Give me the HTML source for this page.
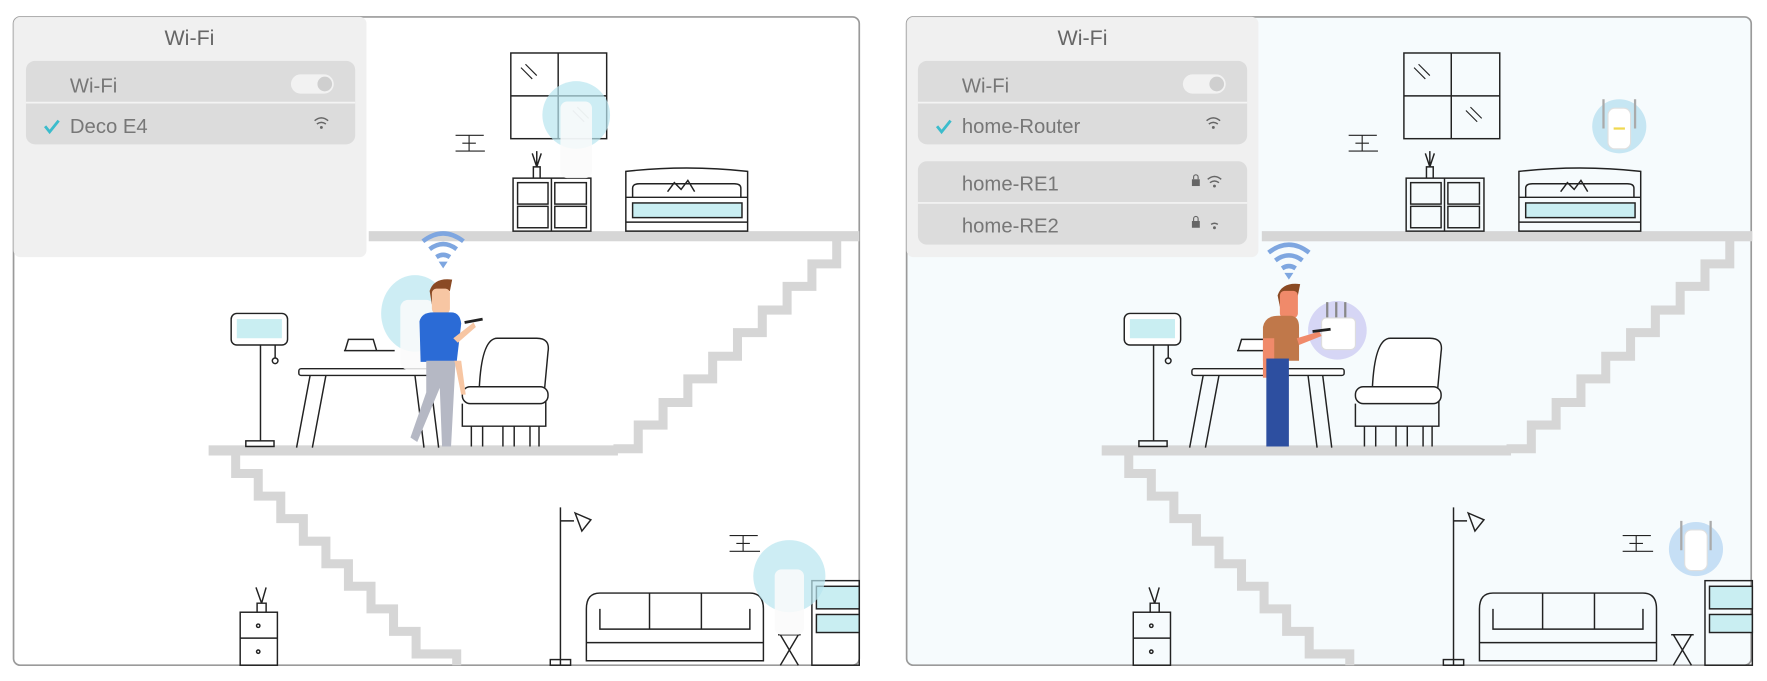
<!DOCTYPE html>
<html><head><meta charset="utf-8"><style>
html,body{margin:0;padding:0;background:#fff;width:1767px;height:681px;overflow:hidden}
svg{display:block}
text{font-family:"Liberation Sans",sans-serif}
</style></head><body>
<svg width="1767" height="681" viewBox="0 0 1567 604" preserveAspectRatio="none" xmlns="http://www.w3.org/2000/svg">
<defs>
<g id="scene" fill="none" stroke="#222" stroke-width="1.3">
  <rect x="327" y="205" width="435" height="9" fill="#d6d6d6" stroke="none"/>
  <rect x="185" y="395" width="363" height="9" fill="#d6d6d6" stroke="none"/>
  <polyline points="742,213 742,234 720,234 720,254 698,254 698,275 676,275 676,295 654,295 654,316 632,316 632,336 610,336 610,357 588,357 588,377 566,377 566,398 544,398" stroke="#d6d6d6" stroke-width="8"/>
  <polyline points="209,403 209,420 229,420 229,440 249,440 249,460 269,460 269,480 289,480 289,500 309,500 309,520 329,520 329,540 349,540 349,560 369,560 369,580 405,580 405,590" stroke="#d6d6d6" stroke-width="8"/>
  <rect x="453" y="47" width="85" height="76"/>
  <line x1="495" y1="47" x2="495" y2="123"/><line x1="453" y1="85" x2="538" y2="85"/>
  <path d="M462 60l10 10M466 57l10 10M508 98l10 10M512 95l10 10" stroke-width="1"/>
  <path d="M404 120h25M416 120v14M404 134h26M410 127h12" stroke-width="1"/>
  <rect x="455" y="158" width="69" height="47"/>
  <line x1="489" y1="158" x2="489" y2="205"/>
  <rect x="459" y="162" width="27" height="19"/><rect x="459" y="183" width="27" height="19"/>
  <rect x="492" y="162" width="28" height="19"/><rect x="492" y="183" width="28" height="19"/>
  <path d="M473 158v-10h6v10M476 148l-4-12M476 148l4-12M476 148v-14"/>
  <path d="M555 152q54-6 108 0v53h-108z"/>
  <rect x="561" y="180" width="97" height="13" fill="#c9eef2" stroke="#222"/>
  <path d="M561 175v-8q0-4 6-4h84q6 0 6 4v8M555 175h108M555 197h108"/>
  <path d="M592 170l6-8 6 6 6-8 6 10"/>
  <rect x="205" y="278" width="50" height="28" rx="5" fill="#fff"/>
  <rect x="210" y="283" width="40" height="17" fill="#c9eef2" stroke="none"/>
  <line x1="231" y1="306" x2="231" y2="391"/><rect x="218" y="391" width="25" height="5"/>
  <path d="M244 306v12"/><circle cx="244" cy="320" r="2.5"/>
  <rect x="265" y="327" width="135" height="6" rx="2" fill="#fff"/>
  <path d="M275 333l-12 64M289 333l-12 64M368 333l8 64M381 333l8 64"/>
  <path d="M306 311l3-10h22l3 10zM305 311h45" fill="#fff"/>
  <path d="M425 345q2-45 16-45h35q12 0 10 12l-4 43" fill="#fff"/>
  <rect x="410" y="343" width="76" height="15" rx="7" fill="#fff"/>
  <path d="M410 358v20h74v-22"/>
  <path d="M418 378v18M428 378v18M446 378v18M456 378v18M470 378v18M478 378v18"/>
  <rect x="213" y="543" width="33" height="47"/>
  <line x1="213" y1="566" x2="246" y2="566"/>
  <circle cx="229" cy="555" r="1.5"/><circle cx="229" cy="578" r="1.5"/>
  <path d="M228 543v-8h8v8M232 535l-5-14M232 535l4-14"/>
  <line x1="497" y1="450" x2="497" y2="590"/>
  <path d="M497 462h12M510 455l14 6-8 10z"/>
  <rect x="488" y="585" width="18" height="5"/>
  <path d="M520 540q0-14 12-14h133q12 0 12 14v46h-157z"/>
  <path d="M532 540v18h133v-18M576 526v32M622 526v32M520 570h157"/>
  <path d="M647 475h25M659 475v14M647 489h27M653 482h12" stroke-width="1"/>
  <rect x="720" y="515" width="42" height="75"/>
  <rect x="724" y="520" width="38" height="20" fill="#c9eef2"/>
  <rect x="724" y="545" width="38" height="16" fill="#c9eef2"/>
  <path d="M690 563h20M692 563l16 27M708 563l-16 27"/>
</g>
</defs>

<rect x="12" y="15" width="750" height="575" rx="6" fill="#fff" stroke="#9a9a9a" stroke-width="1.5"/>
<use href="#scene"/>
<circle cx="511" cy="102" r="30" fill="#b8e6ef" opacity="0.7"/>
<rect x="497" y="90" width="28" height="68" rx="6" fill="#fafafa" opacity="0.85"/>
<ellipse cx="368" cy="278" rx="30" ry="34" fill="#b8e6ef" opacity="0.7"/>
<rect x="355" y="266" width="30" height="62" rx="7" fill="#fafafa" opacity="0.85"/>
<circle cx="700" cy="511" r="32" fill="#b8e6ef" opacity="0.7"/>
<rect x="687" y="505" width="26" height="58" rx="6" fill="#fafafa" opacity="0.85"/>
<g fill="none" stroke="#7ea6e0" stroke-width="4">
<path d="M375 214q18-14 36 0"/><path d="M381 221q12-9 24 0"/><path d="M387 228q6-4 12 0"/>
</g><path d="M389 232l4 6 4-6z" fill="#7ea6e0"/>
<path d="M381 258q4-12 20-10l-2 10-16 12z" fill="#8a4a24"/>
<rect x="383" y="256" width="16" height="22" rx="4" fill="#f7c6a3"/>
<path d="M372 285q2-8 12-8h16q8 0 9 10l-4 34h-32z" fill="#2b6bd6"/>
<path d="M378 320h26l-4 76h-8l-2-52-20 48-6-4 14-40z" fill="#b5b8c4"/>
<path d="M402 300l18-14 2 4-16 14zM403 320l6 30 4 0-4-30z" fill="#f7c6a3"/>
<line x1="412" y1="286" x2="428" y2="283" stroke="#222" stroke-width="2.5"/>
<rect x="12" y="15" width="313" height="213" rx="6" fill="#efefef" opacity="0.96"/>
<text x="168" y="40" font-size="19" fill="#666" text-anchor="middle">Wi-Fi</text>
<rect x="23" y="54" width="292" height="74" rx="8" fill="#dcdcdc"/>
<line x1="23" y1="91" x2="315" y2="91" stroke="#f4f4f4" stroke-width="1.5"/>
<text x="62" y="82" font-size="18" fill="#777">Wi-Fi</text>
<rect x="258" y="66" width="38" height="17" rx="8.5" fill="#f2f2f2"/><circle cx="288" cy="74.5" r="6.5" fill="#cfcfcf"/>
<path d="M40 112l4 5 8-10" fill="none" stroke="#3bbccc" stroke-width="2.5"/>
<text x="62" y="118" font-size="18" fill="#777">Deco E4</text>
<g fill="none" stroke="#666" stroke-width="1.3"><path d="M279 107q6-5 12 0M281 110q4-3 8 0"/></g><circle cx="285" cy="113" r="1.3" fill="#666"/>

<rect x="804" y="15" width="749" height="575" rx="6" fill="#f6fbfd" stroke="#9a9a9a" stroke-width="1.5"/>
<use href="#scene" transform="translate(792,0)"/>
<circle cx="1436" cy="112" r="24" fill="#c6e6f3"/>
<path d="M1422 88v26M1450 88v26" stroke="#aaa" stroke-width="2"/>
<rect x="1426" y="96" width="20" height="36" rx="6" fill="#fff" stroke="#e0e0e0"/>
<line x1="1431" y1="114" x2="1441" y2="114" stroke="#f0d850" stroke-width="2"/>
<circle cx="1504" cy="487" r="24" fill="#c6dff5"/>
<path d="M1491 462v26M1517 462v26" stroke="#aaa" stroke-width="2"/>
<rect x="1494" y="470" width="20" height="36" rx="6" fill="#fff" stroke="#e0e0e0"/>
<g fill="none" stroke="#7ea6e0" stroke-width="4">
<path d="M1125 224q18-14 36 0"/><path d="M1131 231q12-9 24 0"/><path d="M1137 238q6-4 12 0"/>
</g><path d="M1139 242l4 6 4-6z" fill="#7ea6e0"/>
<circle cx="1186" cy="293" r="26" fill="#d6d6f5"/>
<path d="M1177 268v18M1185 268v18M1193 268v18" stroke="#888" stroke-width="2"/>
<rect x="1172" y="282" width="30" height="28" rx="4" fill="#fff" stroke="#ddd"/>
<path d="M1133 262q4-12 20-10l-2 10-16 10z" fill="#8a4a24"/>
<rect x="1135" y="258" width="16" height="24" rx="4" fill="#f08a6a"/>
<path d="M1120 290q2-10 14-10h10q8 0 8 10v30h-32z" fill="#c0784a"/>
<rect x="1120" y="300" width="10" height="35" fill="#f08a6a"/>
<path d="M1150 300l20-6 2 4-20 8z" fill="#f08a6a"/>
<rect x="1123" y="318" width="20" height="78" fill="#2d4fa0"/>
<line x1="1164" y1="294" x2="1180" y2="292" stroke="#222" stroke-width="2.5"/>
<rect x="804" y="15" width="312" height="213" rx="6" fill="#efefef" opacity="0.96"/>
<text x="960" y="40" font-size="19" fill="#666" text-anchor="middle">Wi-Fi</text>
<rect x="814" y="54" width="292" height="74" rx="8" fill="#dcdcdc"/>
<line x1="814" y1="91" x2="1106" y2="91" stroke="#f4f4f4" stroke-width="1.5"/>
<text x="853" y="82" font-size="18" fill="#777">Wi-Fi</text>
<rect x="1049" y="66" width="38" height="17" rx="8.5" fill="#f2f2f2"/><circle cx="1079" cy="74.5" r="6.5" fill="#cfcfcf"/>
<path d="M831 112l4 5 8-10" fill="none" stroke="#3bbccc" stroke-width="2.5"/>
<text x="853" y="118" font-size="18" fill="#777">home-Router</text>
<g fill="none" stroke="#666" stroke-width="1.3"><path d="M1070 107q6-5 12 0M1072 110q4-3 8 0"/></g><circle cx="1076" cy="113" r="1.3" fill="#666"/>
<rect x="814" y="143" width="292" height="74" rx="8" fill="#dcdcdc"/>
<line x1="814" y1="180" x2="1106" y2="180" stroke="#f4f4f4" stroke-width="1.5"/>
<text x="853" y="169" font-size="18" fill="#777">home-RE1</text>
<text x="853" y="206" font-size="18" fill="#777">home-RE2</text>
<rect x="1057" y="159" width="7" height="6" fill="#666"/><path d="M1058.5 159v-2a2 2 0 0 1 4 0v2" fill="none" stroke="#666"/>
<rect x="1057" y="196" width="7" height="6" fill="#666"/><path d="M1058.5 196v-2a2 2 0 0 1 4 0v2" fill="none" stroke="#666"/>
<g fill="none" stroke="#666" stroke-width="1.3"><path d="M1071 159q6-5 12 0M1073 162q4-3 8 0"/><path d="M1074 199q3-2 6 0"/></g>
<circle cx="1077" cy="165" r="1.3" fill="#666"/><circle cx="1077" cy="202" r="1.3" fill="#666"/>
</svg>
</body></html>
